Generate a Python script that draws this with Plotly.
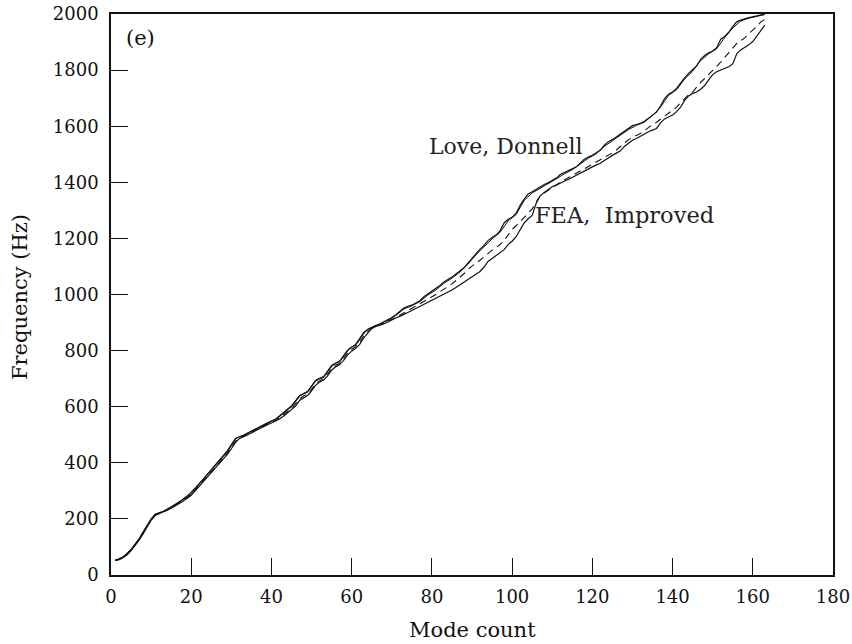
import plotly.graph_objects as go

# ---- data ----
love_modes = list(range(1, 164))
love_freq = [52, 56, 64, 74, 90, 108, 128, 152, 175, 200, 216, 220, 226, 233, 242, 250, 258, 270, 280, 290,
             308, 325, 340, 355, 372, 392, 408, 425, 440, 462, 485, 493, 497, 505, 512, 520, 528, 536, 542, 548,
             555, 565, 578, 590, 600, 618, 638, 645, 652, 672, 692, 700, 705, 725, 745, 755, 760, 780, 800, 812,
             820, 840, 862, 876, 884, 889, 895, 902, 910, 918, 928, 940, 952, 958, 962, 970, 978, 992, 1002, 1010,
             1020, 1032, 1045, 1052, 1062, 1073, 1085, 1095, 1112, 1130, 1148, 1162, 1175, 1192, 1203, 1212, 1228, 1255, 1268, 1275,
             1290, 1318, 1340, 1358, 1366, 1375, 1382, 1392, 1398, 1406, 1415, 1428, 1434, 1440, 1448, 1455, 1468, 1482, 1490, 1496,
             1505, 1515, 1532, 1545, 1552, 1562, 1572, 1580, 1592, 1602, 1606, 1610, 1618, 1628, 1640, 1650, 1672, 1698, 1714, 1722,
             1735, 1755, 1772, 1788, 1800, 1815, 1838, 1852, 1862, 1868, 1880, 1910, 1920, 1935, 1955, 1972, 1978, 1983, 1987, 1990,
             1993, 1998, 2000]

donnell_modes = list(range(1, 164, 2))
donnell_freq = [52, 65, 92, 130, 177, 217, 227, 244, 260, 283, 311, 343, 376, 411, 444, 487, 498, 513, 529, 543,
                556, 580, 604, 640, 655, 695, 708, 748, 763, 803, 823, 866, 883, 894, 908, 925, 948, 960, 975, 998,
                1016, 1040, 1058, 1080, 1108, 1142, 1170, 1198, 1222, 1262, 1285, 1335, 1362, 1378, 1395, 1412, 1430, 1445, 1465, 1486,
                1502, 1528, 1548, 1568, 1588, 1603, 1615, 1638, 1668, 1710, 1730, 1768, 1796, 1834, 1858, 1876, 1916, 1950, 1975, 1985,
                1992, 1998]

fea_modes = list(range(1, 164))
fea_freq = [52, 55, 62, 72, 87, 104, 124, 146, 170, 195, 212, 218, 224, 230, 238, 246, 254, 264, 274, 284,
            300, 316, 332, 346, 362, 382, 398, 414, 430, 450, 472, 486, 492, 498, 506, 514, 522, 530, 536, 542,
            548, 556, 566, 578, 588, 602, 622, 632, 640, 656, 676, 688, 695, 710, 730, 742, 750, 765, 785, 798,
            808, 822, 845, 862, 878, 886, 890, 895, 902, 910, 916, 922, 928, 936, 943, 950, 958, 965, 974, 980,
            986, 994, 1002, 1008, 1016, 1025, 1034, 1044, 1052, 1062, 1072, 1082, 1098, 1118, 1128, 1138, 1148, 1160, 1178, 1190,
            1206, 1232, 1255, 1270, 1282, 1325, 1352, 1364, 1374, 1384, 1390, 1398, 1404, 1410, 1418, 1425, 1432, 1440, 1448, 1455,
            1462, 1468, 1478, 1488, 1496, 1504, 1512, 1528, 1540, 1550, 1556, 1565, 1572, 1580, 1586, 1592, 1612, 1626, 1633, 1640,
            1652, 1668, 1692, 1708, 1717, 1722, 1732, 1745, 1765, 1784, 1794, 1800, 1806, 1812, 1822, 1858, 1872, 1880, 1890, 1902,
            1920, 1942, 1960]

improved_modes = list(range(1, 164))
improved_freq = [52, 55, 63, 73, 88, 106, 126, 149, 172, 198, 214, 219, 225, 231, 240, 248, 256, 266, 276, 287,
                 302, 320, 336, 350, 366, 386, 402, 418, 434, 455, 476, 489, 494, 500, 508, 516, 524, 532, 538, 544,
                 550, 560, 572, 583, 592, 610, 628, 638, 645, 662, 682, 692, 700, 716, 736, 748, 754, 772, 792, 804,
                 814, 830, 852, 868, 880, 886, 892, 898, 904, 910, 918, 926, 934, 942, 950, 960, 968, 976, 984, 992,
                 1000, 1010, 1018, 1028, 1038, 1050, 1062, 1074, 1090, 1102, 1112, 1122, 1135, 1148, 1158, 1168, 1178, 1192, 1210, 1232,
                 1245, 1260, 1276, 1292, 1305, 1330, 1352, 1362, 1372, 1380, 1390, 1400, 1408, 1415, 1424, 1432, 1440, 1448, 1456, 1464,
                 1472, 1480, 1490, 1498, 1505, 1515, 1528, 1540, 1552, 1560, 1566, 1574, 1584, 1596, 1606, 1614, 1625, 1635, 1645, 1656,
                 1668, 1684, 1700, 1712, 1722, 1740, 1756, 1770, 1784, 1798, 1812, 1828, 1845, 1862, 1880, 1895, 1905, 1915, 1930, 1942,
                 1955, 1972, 1980]

x_ticks = [0, 20, 40, 60, 80, 100, 120, 140, 160, 180]
y_ticks = [0, 200, 400, 600, 800, 1000, 1200, 1400, 1600, 1800, 2000]

FONT = "DejaVu Serif"
W, H = 852, 644
L, R, T, B = 111, 19, 14, 69

fig = go.Figure()
fig.add_trace(go.Scatter(x=love_modes, y=love_freq, mode="lines", name="Love",
                         line=dict(color="#111111", width=1.2)))
fig.add_trace(go.Scatter(x=donnell_modes, y=donnell_freq, mode="lines", name="Donnell",
                         line=dict(color="#111111", width=1.0)))
fig.add_trace(go.Scatter(x=fea_modes, y=fea_freq, mode="lines", name="FEA",
                         line=dict(color="#111111", width=1.2)))
fig.add_trace(go.Scatter(x=improved_modes, y=improved_freq, mode="lines", name="Improved",
                         line=dict(color="#111111", width=1.1, dash="7px,5px")))

fig.add_annotation(x=3.2, y=1914, xref="x", yref="y", text="(e)", showarrow=False,
                   xanchor="left", yanchor="middle", font=dict(family=FONT, size=21, color="#111111"))
fig.add_annotation(x=78.9, y=1526, xref="x", yref="y", text="Love, Donnell", showarrow=False,
                   xanchor="left", yanchor="middle", font=dict(family=FONT, size=22, color="#222222"))
fig.add_annotation(x=105.1, y=1283, xref="x", yref="y", text="FEA,  Improved", showarrow=False,
                   xanchor="left", yanchor="middle", font=dict(family=FONT, size=22.5, color="#222222"))

# axis titles placed as paper annotations (pixel positions from the reference)
fig.add_annotation(x=(472 - L) / (W - L - R), y=-(630 - (H - B)) / (H - T - B), xref="paper", yref="paper",
                   text="Mode count", showarrow=False, xanchor="center", yanchor="middle",
                   font=dict(family=FONT, size=21, color="#111111"))
fig.add_annotation(x=-(L - 20) / (W - L - R), y=((H - B) - 297) / (H - T - B), xref="paper", yref="paper",
                   text="Frequency (Hz)", showarrow=False, textangle=-90, xanchor="center", yanchor="middle",
                   font=dict(family=FONT, size=21, color="#111111"))

axis_common = dict(showgrid=False, zeroline=False, showline=True, linecolor="#111111", linewidth=1.5,
                   mirror=True, ticks="inside", ticklen=17, tickwidth=1.2, tickcolor="#111111",
                   automargin=False, tickfont=dict(family=FONT, size=18, color="#111111"))

fig.update_xaxes(range=[0, 180], tickvals=x_ticks, ticktext=[str(v) for v in x_ticks],
                 ticklabelstandoff=5, **axis_common)
fig.update_yaxes(range=[0, 2000], tickvals=y_ticks, ticktext=[str(v) for v in y_ticks],
                 ticklabelstandoff=7, **axis_common)

fig.update_layout(width=W, height=H, margin=dict(l=L, r=R, t=T, b=B, autoexpand=False),
                  plot_bgcolor="white", paper_bgcolor="white", showlegend=False)

fig.write_html("out.html")
